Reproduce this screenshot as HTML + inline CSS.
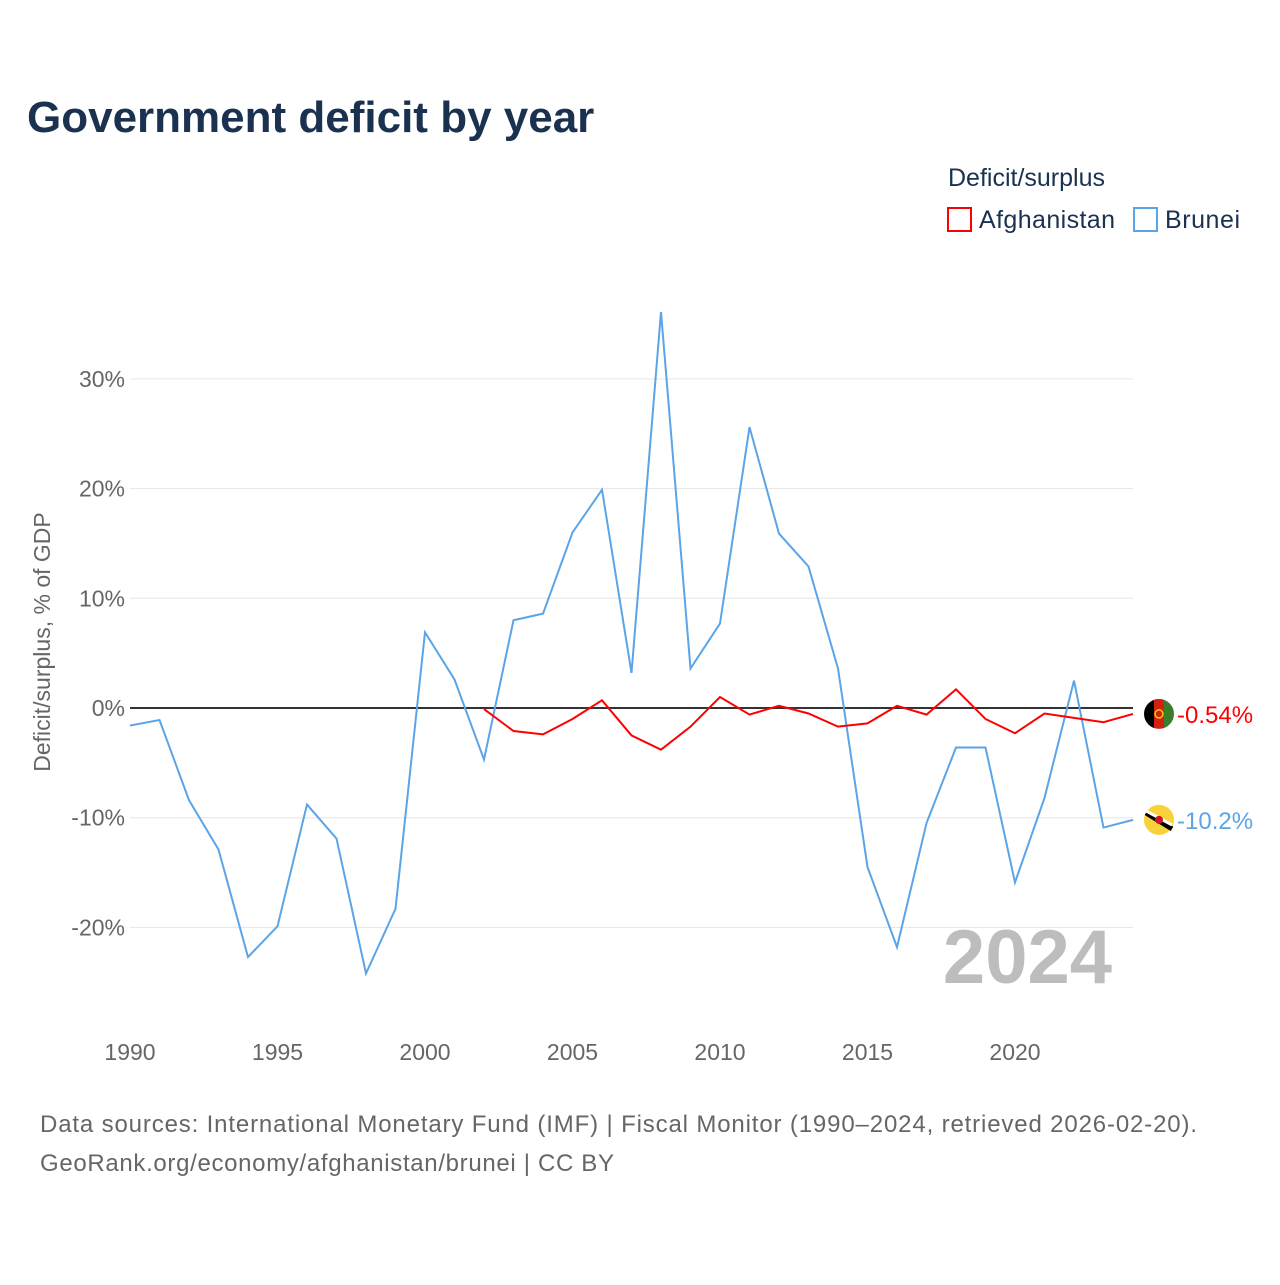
<!DOCTYPE html>
<html><head><meta charset="utf-8">
<style>
body{margin:0;background:#fff;font-family:"Liberation Sans",sans-serif;}
svg text{font-family:"Liberation Sans",sans-serif;}
</style></head>
<body>
<svg id="chart" width="1280" height="1280" viewBox="0 0 1280 1280" xmlns="http://www.w3.org/2000/svg">
<defs><clipPath id="afclip"><circle id="afclipc" cx="1159" cy="0" r="15"/></clipPath></defs>
<text x="27" y="132" font-size="44" font-weight="bold" fill="#1a3150">Government deficit by year</text>
<text x="948" y="186" font-size="25" fill="#1a3150">Deficit/surplus</text>
<g>
<rect x="948" y="208" width="23" height="23" fill="none" stroke="#ff0000" stroke-width="2"/>
<text x="979" y="228" font-size="25" fill="#1a3150" textLength="136">Afghanistan</text></g>
<g>
<rect x="1134" y="208" width="23" height="23" fill="none" stroke="#5ba4e8" stroke-width="2"/>
<text x="1165" y="228" font-size="25" fill="#1a3150" textLength="75">Brunei</text></g>
<text transform="translate(50,642) rotate(-90)" text-anchor="middle" font-size="23" fill="#666">Deficit/surplus, % of GDP</text>
<g id="grid"></g><g id="yticks"></g><g id="xticks"></g><g id="lines"></g>
<text x="1112" y="983" text-anchor="end" font-size="76" font-weight="bold" fill="#bdbdbd">2024</text>
<text x="40" y="1132" font-size="24" fill="#666" textLength="1157">Data sources: International Monetary Fund (IMF) | Fiscal Monitor (1990–2024, retrieved 2026-02-20).</text>
<text x="40" y="1171" font-size="24" fill="#666" textLength="574">GeoRank.org/economy/afghanistan/brunei | CC BY</text>
</svg>
<script>
const years=[];for(let y=1990;y<=2024;y++)years.push(y);
const bruneiValues=[-1.6,-1.1,-8.4,-12.9,-22.7,-19.9,-8.8,-11.9,-24.2,-18.3,6.9,2.6,-4.7,8.0,8.6,16.0,19.9,3.2,36.1,3.6,7.7,25.6,15.9,12.9,3.6,-14.5,-21.8,-10.5,-3.6,-3.6,-15.9,-8.2,2.5,-10.9,-10.2];
const afghanYears=[2002,2003,2004,2005,2006,2007,2008,2009,2010,2011,2012,2013,2014,2015,2016,2017,2018,2019,2020,2021,2022,2023,2024];
const afghanValues=[-0.1,-2.1,-2.4,-1.0,0.7,-2.5,-3.8,-1.7,1.0,-0.6,0.2,-0.5,-1.7,-1.4,0.2,-0.6,1.7,-1.0,-2.3,-0.5,-0.9,-1.3,-0.54];
const yTicks=[-20,-10,0,10,20,30];
const xTicks=[1990,1995,2000,2005,2010,2015,2020];
const NS="http://www.w3.org/2000/svg";
const xs=y=>130+(y-1990)*29.5;
const ys=v=>708-v*10.97;
function mk(t,a,p){const e=document.createElementNS(NS,t);for(const k in a)e.setAttribute(k,a[k]);p.appendChild(e);return e;}
const grid=document.getElementById('grid'),yt=document.getElementById('yticks'),xt=document.getElementById('xticks'),ln=document.getElementById('lines');
yTicks.forEach(v=>{
 const l=mk('line',{x1:130,x2:1133,y1:ys(v),y2:ys(v),stroke:v===0?'#333':'#e6e6e6','stroke-width':v===0?2:1},grid);
 
 
 const t=mk('text',{x:125,y:ys(v)+8,'text-anchor':'end','font-size':23,fill:'#666'},yt);
 t.textContent=v+'%';
 
 
});
xTicks.forEach(y=>{
 const t=mk('text',{x:xs(y),y:1060,'text-anchor':'middle','font-size':23,fill:'#666'},xt);
 t.textContent=y;
 
 
});
function series(xv,vals,color,name){
 const d=vals.map((v,i)=>(i?'L':'M')+xs(xv[i])+','+ys(v)).join(' ');
 const p=mk('path',{d:d,fill:'none',stroke:color,'stroke-width':2},ln);
 
 
}
series(years,bruneiValues,'#5ba4e8','brunei-line');
series(afghanYears,afghanValues,'#ff0000','afghanistan-line');
function endLabel(v,color,name,flag){
 const y=ys(v);
 const g=mk('g',{},ln);
 
 
 if(flag==='af'){
  document.getElementById('afclipc').setAttribute('cy',y);
  const f=mk('g',{'clip-path':'url(#afclip)'},g);
  mk('rect',{x:1144,y:y-15,width:10,height:30,fill:'#000'},f);
  mk('rect',{x:1154,y:y-15,width:10,height:30,fill:'#d32011'},f);
  mk('rect',{x:1164,y:y-15,width:10,height:30,fill:'#3a7d2c'},f);
  mk('circle',{cx:1159,cy:y,r:4,fill:'none',stroke:'#f5d000','stroke-width':1.5},f);
 }else{
  mk('circle',{cx:1159,cy:y,r:15,fill:'#f7d23a'},g);
  mk('line',{x1:1146,y1:y-7,x2:1172,y2:y+9,stroke:'#000','stroke-width':5},g);
  mk('line',{x1:1146,y1:y-9,x2:1172,y2:y+5,stroke:'#fff','stroke-width':3},g);
  mk('circle',{cx:1159,cy:y,r:4,fill:'#cf1126'},g);
 }
 const t=mk('text',{x:1177,y:y+9,'font-size':24,fill:color},g);
 t.textContent=v+'%';
}
endLabel(afghanValues[afghanValues.length-1],'#ff0000','afghanistan-end-label','af');
endLabel(bruneiValues[bruneiValues.length-1],'#5ba4e8','brunei-end-label','bn');
</script>
</body></html>
